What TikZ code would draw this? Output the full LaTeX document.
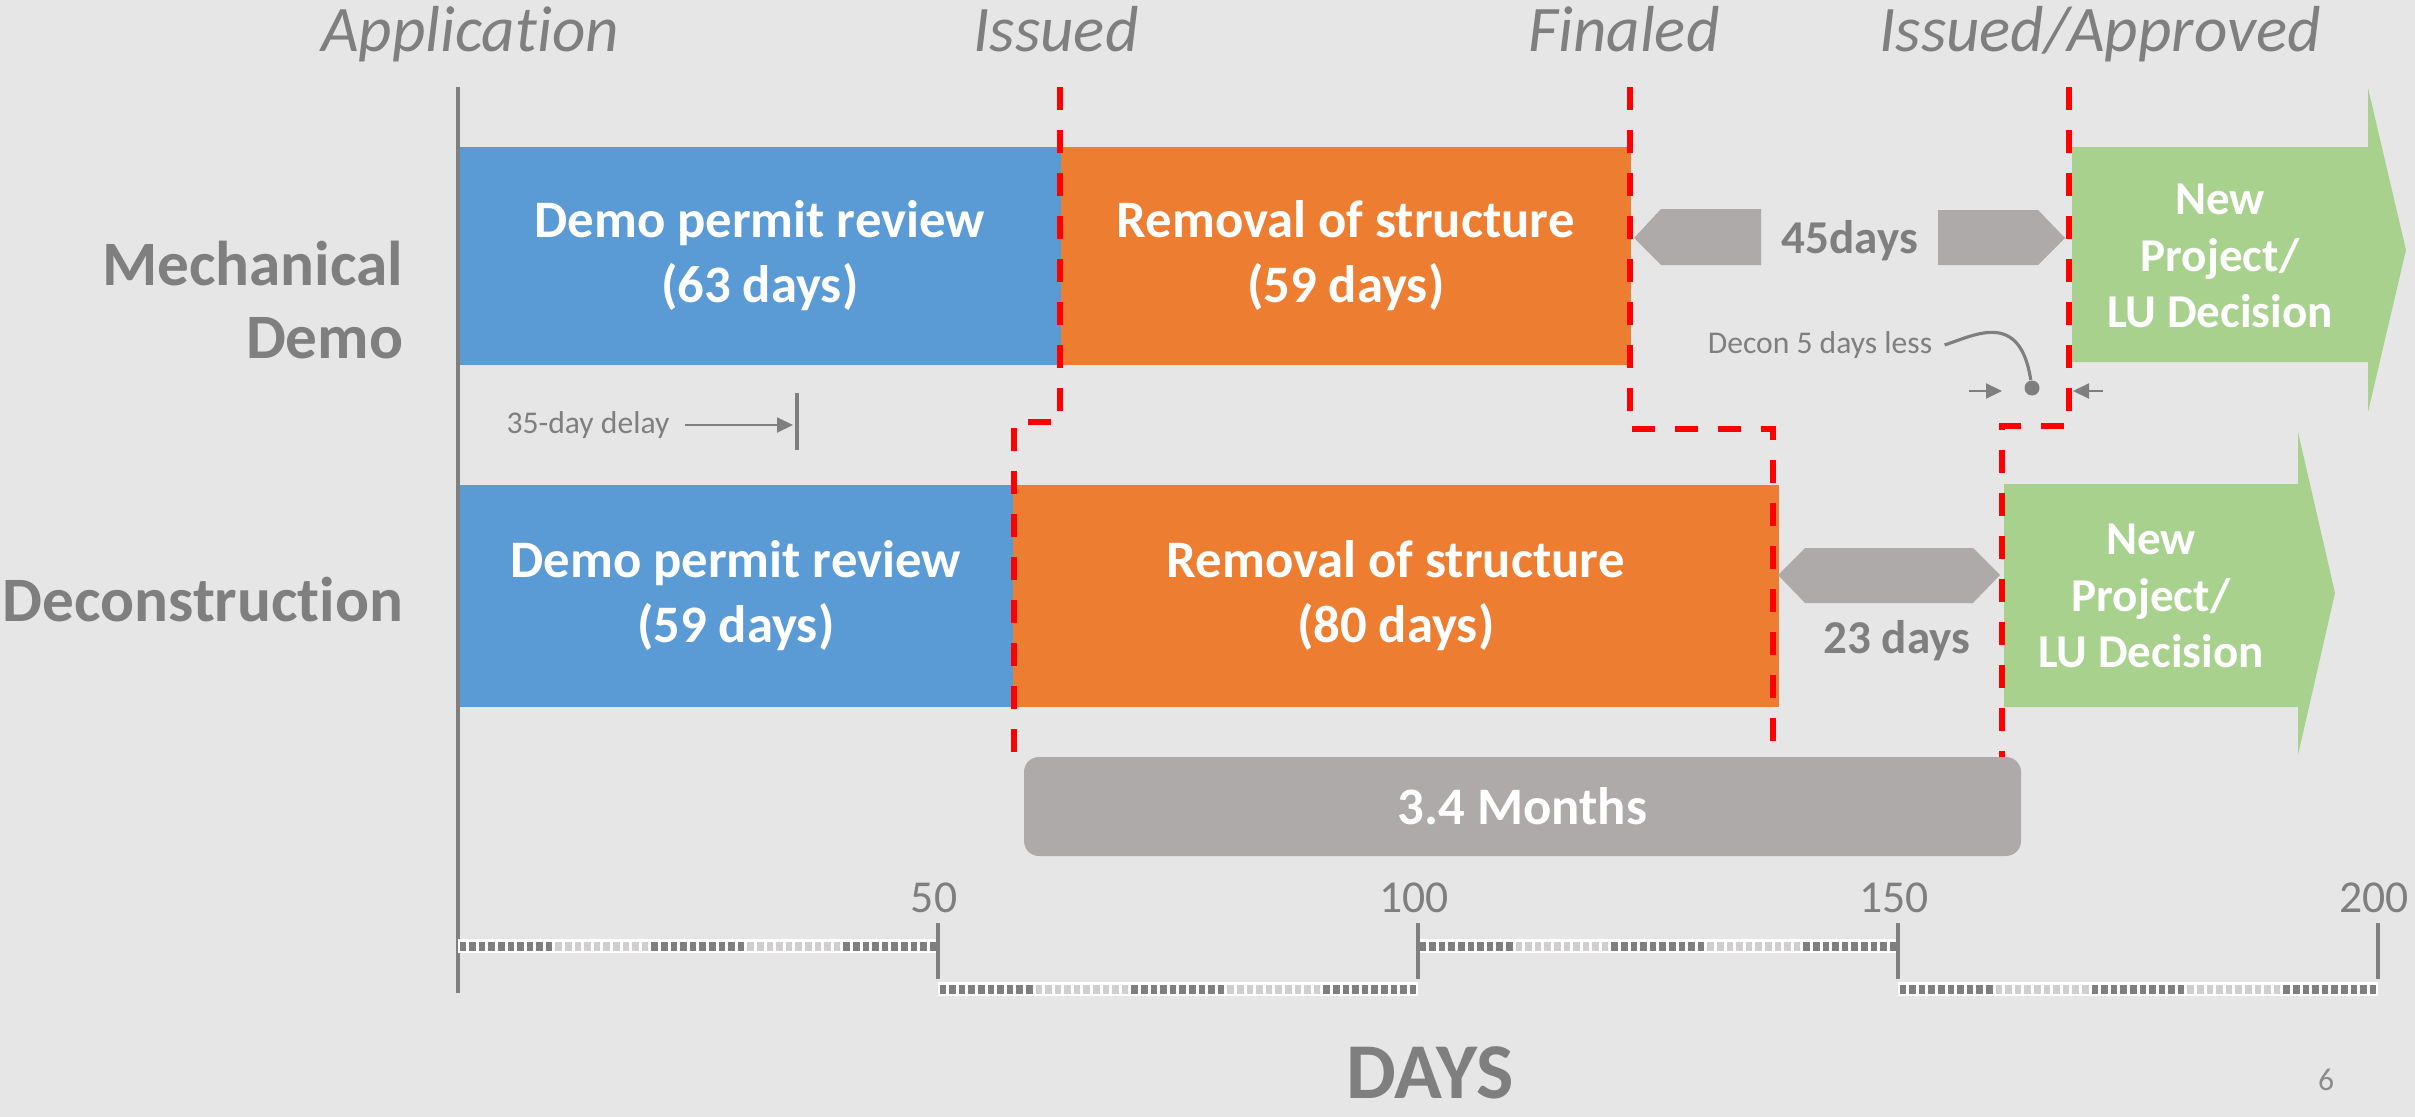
\documentclass[tikz,border=0pt]{standalone}
\usepackage{fontspec}
\setmainfont{Carlito}[Ligatures = NoCommon]
\usetikzlibrary{arrows.meta}
\definecolor{bgcol}{HTML}{E7E6E6}
\definecolor{reviewblue}{HTML}{5B9BD5}
\definecolor{removalorange}{HTML}{ED7D31}
\definecolor{nextgreen}{HTML}{A9D18E}
\definecolor{shapegray}{HTML}{AEAAAA}
\definecolor{textgray}{HTML}{7F7F7F}
\definecolor{scalelight}{HTML}{D0CECE}
\tikzset{
  bar/.style = {anchor = north west, inner sep = 0, text = white, align = center, font = \bfseries\fontsize{15}{18.5}\selectfont},
  nexttext/.style = {text = white, align = center, font = \bfseries\fontsize{13.4}{16}\selectfont},
  gaptext/.style = {text = textgray, anchor = base, font = \bfseries\fontsize{13.4}{16}\selectfont},
  milestone/.style = {text = textgray, anchor = base, font = \itshape\fontsize{18.5}{22}\selectfont},
  rowlabel/.style = {text = textgray, align = right, anchor = east, inner sep = 0, font = \bfseries\fontsize{18}{21}\selectfont},
  note/.style = {text = textgray, font = \fontsize{9}{11}\selectfont},
  daynum/.style = {text = textgray, anchor = base, font = \fontsize{13}{15}\selectfont},
  axisline/.style = {draw = textgray, line width = 0.9pt},
  redline/.style = {draw = red, line width = 1.5pt, dash pattern = on 0.23cm off 0.2cm},
  pointer/.style = {draw = textgray, line width = 0.6pt, -{Triangle[length = 0.16cm, width = 0.15cm]}},
  dotmark/.style = {fill = textgray, circle, inner sep = 0, minimum size = 0.15cm}
}

\begin{document}
\begin{tikzpicture}[x = 1cm, y = -1cm]
    \path [use as bounding box, fill = bgcol] (0, 0) rectangle (24.15, 11.17);

    \node [bar, fill = reviewblue, minimum width = 6.02cm, minimum height = 2.18cm] (mechReview) at (4.58, 1.46) {Demo permit review\\(63 days)};
    \node [bar, fill = removalorange, minimum width = 5.70cm, minimum height = 2.18cm] (mechRemoval) at (10.60, 1.46) {Removal of structure\\(59 days)};
    \node [bar, fill = reviewblue, minimum width = 5.54cm, minimum height = 2.22cm] (decReview) at (4.58, 4.84) {Demo permit review\\(59 days)};
    \node [bar, fill = removalorange, minimum width = 7.66cm, minimum height = 2.22cm] (decRemoval) at (10.12, 4.84) {Removal of structure\\(80 days)};

    \fill [nextgreen] (20.72, 1.47) -- (23.68, 1.47) -- (23.68, 0.88) -- (24.06, 2.50) -- (23.68, 4.12) -- (23.68, 3.62) -- (20.72, 3.62) -- cycle;
    \fill [nextgreen] (20.04, 4.84) -- (22.98, 4.84) -- (22.98, 4.32) -- (23.35, 5.93) -- (22.98, 7.55) -- (22.98, 7.07) -- (20.04, 7.07) -- cycle;
    \node [nexttext] (mechNext) at (22.20, 2.56) {New\\Project/\\LU Decision};
    \node [nexttext] (decNext) at (21.51, 5.96) {New\\Project/\\LU Decision};

    \fill [shapegray] (16.34, 2.38) -- (16.61, 2.09) -- (17.61, 2.09) -- (17.61, 2.65) -- (16.61, 2.65) -- cycle;
    \fill [shapegray] (19.38, 2.10) -- (20.38, 2.10) -- (20.65, 2.38) -- (20.38, 2.65) -- (19.38, 2.65) -- cycle;
    \node [gaptext] (mechGap) at (18.50, 2.53) {45days};
    \fill [shapegray] (17.78, 5.75) -- (18.05, 5.48) -- (19.73, 5.48) -- (20.00, 5.75) -- (19.73, 6.03) -- (18.05, 6.03) -- cycle;
    \node [gaptext] (decGap) at (18.97, 6.53) {23 days};

    \node [fill = shapegray, rounded corners = 0.15cm, minimum width = 9.97cm, minimum height = 0.99cm, text = white, font = \bfseries\fontsize{15}{18}\selectfont] (saving) at (15.225, 8.065) {3.4 Months};

    \draw [redline] (10.60, 0.87) -- (10.60, 4.22) -- (10.14, 4.22) -- (10.14, 7.57);
    \draw [redline] (16.30, 0.87) -- (16.30, 4.29) -- (17.73, 4.29) -- (17.73, 7.57);
    \draw [redline] (20.69, 0.87) -- (20.69, 4.26) -- (20.02, 4.26) -- (20.02, 7.57);

    \node [milestone] (application) at (4.70, 0.52) {Application};
    \node [milestone] (issued) at (10.56, 0.52) {Issued};
    \node [milestone] (finaled) at (16.24, 0.52) {Finaled};
    \node [milestone] (approved) at (21.00, 0.52) {Issued/Approved};

    \node [rowlabel] (mechLabel) at (4.04, 3.00) {Mechanical\\Demo};
    \node [rowlabel] (decLabel) at (4.04, 6.00) {Deconstruction};

    \coordinate (axisTop) at (4.58, 0.87);
    \coordinate (axisBot) at (4.58, 9.93);
    \draw [axisline] (axisTop) -- (axisBot);

    \foreach \k in {0, ..., 3} {
      \pgfmathsetmacro\segx{4.58 + 4.8*\k}
      \ifodd\k\relax \def\segy{9.82}\else \def\segy{9.39}\fi
      \fill [white] (\segx, \segy) rectangle ++(4.8, 0.14);
      \foreach \i in {0, ..., 49} {
        \pgfmathtruncatemacro\grp{\i/10}
        \ifodd\grp\relax \def\boxcol{scalelight}\else \def\boxcol{textgray}\fi
        \fill [\boxcol] (\segx + 0.096*\i + 0.015, \segy + 0.025) rectangle ++(0.066, 0.09);
      }
    }
    \foreach \k/\lab in {1/50, 2/100, 3/150, 4/200} {
      \draw [axisline] (4.58 + 4.8*\k, 9.23) -- ++(0, 0.56);
      \node [daynum] (day\lab) at (4.54 + 4.8*\k, 9.12) {\lab};
    }

    \node [note, inner sep = 0.15cm] (delayNote) at (5.88, 4.25) {35-day delay};
    \coordinate (delayTop) at (7.97, 3.93);
    \coordinate (delayBot) at (7.97, 4.50);
    \coordinate (delayEnd) at (7.93, 4.25);
    \draw [axisline] (delayTop) -- (delayBot);
    \draw [pointer] (delayNote.east) -- (delayEnd);

    \node [note] (deconNote) at (18.20, 3.45) {Decon 5 days less};
    \node [dotmark] (deconDot) at (20.32, 3.88) {};
    \draw [draw = textgray, line width = 0.9pt] (deconNote.east) .. controls (19.75, 3.35) and (20.20, 3.10) .. (deconDot);
    \coordinate (gapLeft) at (20.02, 3.91);
    \coordinate (gapRight) at (20.73, 3.91);
    \draw [pointer] ([xshift = -0.33cm] gapLeft) -- (gapLeft);
    \draw [pointer] ([xshift = 0.30cm] gapRight) -- (gapRight);

    \node [anchor = base, inner sep = 0, text depth = 0pt, text = textgray, font = \bfseries\fontsize{22.5}{26}\selectfont] (daysTitle) at (14.30, 10.98) {DAYS};
    \node [anchor = base, text = textgray!90, font = \fontsize{9}{11}\selectfont] (pageNum) at (23.26, 10.90) {6};
\end{tikzpicture}
\end{document}
